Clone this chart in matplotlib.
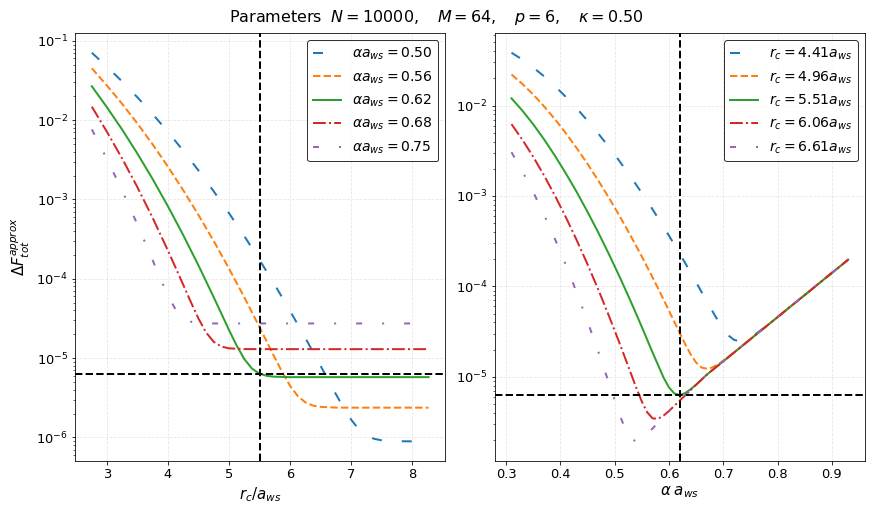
import numpy as np
import matplotlib.pyplot as plt

# values are given as log10(ΔF)

# left panel: ΔF vs r_c / a_ws at fixed alpha
alpha_labels = ['0.50', '0.56', '0.62', '0.68', '0.75']

rc_a050 = [2.755, 3.0, 3.25, 3.5, 3.75, 4.0, 4.25, 4.5, 4.75, 5.0, 5.25, 5.5, 5.75, 6.0,
           6.25, 6.5, 6.75, 6.875, 7.0, 7.125, 7.25, 7.375, 7.5, 7.75, 8.0, 8.265]
lg_a050 = [-1.149, -1.324, -1.511, -1.711, -1.922, -2.147, -2.384, -2.634, -2.897, -3.173,
           -3.461, -3.763, -4.078, -4.406, -4.747, -5.100, -5.456, -5.626, -5.778, -5.898,
           -5.976, -6.018, -6.037, -6.048, -6.050, -6.050]

rc_a056 = [2.755, 3.0, 3.25, 3.5, 3.75, 4.0, 4.25, 4.5, 4.75, 5.0, 5.25, 5.5, 5.75, 5.875,
           6.0, 6.125, 6.25, 6.375, 6.5, 6.75, 7.0, 7.5, 8.0, 8.265]
lg_a056 = [-1.345, -1.561, -1.793, -2.041, -2.305, -2.585, -2.882, -3.195, -3.525, -3.871,
           -4.233, -4.611, -4.997, -5.183, -5.350, -5.479, -5.559, -5.599, -5.615, -5.624,
           -5.625, -5.625, -5.625, -5.625]

rc_a062 = [2.755, 3.0, 3.25, 3.5, 3.75, 4.0, 4.25, 4.5, 4.75, 5.0, 5.125, 5.25, 5.375, 5.5,
           5.625, 5.75, 6.0, 6.5, 7.0, 7.5, 8.0, 8.265]
lg_a062 = [-1.572, -1.835, -2.117, -2.420, -2.742, -3.085, -3.448, -3.831, -4.233, -4.646,
           -4.842, -5.012, -5.132, -5.197, -5.225, -5.235, -5.240, -5.240, -5.240, -5.240,
           -5.240, -5.240]

rc_a068 = [2.755, 3.0, 3.25, 3.5, 3.75, 4.0, 4.25, 4.375, 4.5, 4.625, 4.75, 4.875, 5.0,
           5.25, 5.5, 6.0, 6.5, 7.0, 7.5, 8.0, 8.265]
lg_a068 = [-1.830, -2.144, -2.482, -2.844, -3.231, -3.643, -4.074, -4.293, -4.501, -4.677,
           -4.795, -4.854, -4.877, -4.886, -4.887, -4.887, -4.887, -4.887, -4.887, -4.887,
           -4.887]

rc_a075 = [2.755, 3.0, 3.25, 3.5, 3.75, 3.875, 4.0, 4.125, 4.25, 4.375, 4.5, 4.75, 5.0,
           5.5, 6.0, 6.5, 7.0, 7.5, 8.0, 8.265]
lg_a075 = [-2.116, -2.486, -2.885, -3.313, -3.765, -3.994, -4.210, -4.386, -4.494, -4.541,
           -4.557, -4.563, -4.563, -4.563, -4.563, -4.563, -4.563, -4.563, -4.563, -4.563]

# right panel: ΔF vs alpha a_ws at fixed r_c
rc_labels = ['4.41', '4.96', '5.51', '6.06', '6.61']

tail_alpha = [0.59, 0.61, 0.63, 0.65, 0.67, 0.69, 0.71, 0.73, 0.75, 0.77, 0.79, 0.81,
              0.83, 0.85, 0.87, 0.89, 0.91, 0.93]
tail_lg = [-5.443, -5.321, -5.203, -5.088, -4.974, -4.876, -4.779, -4.681, -4.583, -4.485,
           -4.388, -4.290, -4.192, -4.095, -3.997, -3.899, -3.802, -3.704]

al_r441 = [0.31, 0.33, 0.35, 0.37, 0.39, 0.41, 0.43, 0.45, 0.47, 0.49, 0.51, 0.53, 0.55,
           0.57, 0.59, 0.61, 0.63, 0.65, 0.67, 0.69, 0.71, 0.72, 0.73, 0.74, 0.75, 0.77,
           0.79, 0.81, 0.83, 0.85, 0.87, 0.89, 0.91, 0.93]
lg_r441 = [-1.416, -1.491, -1.579, -1.677, -1.785, -1.904, -2.031, -2.167, -2.311, -2.463,
           -2.624, -2.791, -2.967, -3.150, -3.340, -3.538, -3.743, -3.954, -4.169, -4.377,
           -4.544, -4.591, -4.606, -4.595, -4.566, -4.481, -4.387, -4.290, -4.192, -4.095,
           -3.997, -3.899, -3.802, -3.704]

al_r496 = [0.31, 0.33, 0.35, 0.37, 0.39, 0.41, 0.43, 0.45, 0.47, 0.49, 0.51, 0.53, 0.55,
           0.57, 0.59, 0.61, 0.62, 0.63, 0.64, 0.65, 0.66, 0.67, 0.68, 0.69, 0.71] + tail_alpha[7:]
lg_r496 = [-1.657, -1.761, -1.878, -2.009, -2.151, -2.305, -2.470, -2.645, -2.831, -3.026,
           -3.231, -3.446, -3.669, -3.903, -4.144, -4.393, -4.518, -4.640, -4.752, -4.842,
           -4.897, -4.910, -4.896, -4.864, -4.777] + tail_lg[7:]

al_r551 = [0.31, 0.33, 0.35, 0.37, 0.39, 0.41, 0.43, 0.45, 0.47, 0.49, 0.51, 0.53, 0.55,
           0.57, 0.59, 0.60, 0.61, 0.62, 0.63, 0.64, 0.65] + tail_alpha[4:]
lg_r551 = [-1.920, -2.056, -2.207, -2.374, -2.555, -2.749, -2.955, -3.175, -3.406, -3.650,
           -3.905, -4.171, -4.448, -4.733, -5.007, -5.117, -5.184, -5.201, -5.179, -5.136,
           -5.085] + tail_lg[4:]

al_r606 = [0.31, 0.33, 0.35, 0.37, 0.39, 0.41, 0.43, 0.45, 0.47, 0.49, 0.51, 0.53, 0.54,
           0.55, 0.56, 0.57, 0.58, 0.59, 0.60, 0.61] + tail_alpha[2:]
lg_r606 = [-2.206, -2.377, -2.567, -2.773, -2.996, -3.234, -3.487, -3.755, -4.037, -4.334,
           -4.643, -4.964, -5.124, -5.273, -5.393, -5.459, -5.463, -5.428, -5.377, -5.320] + tail_lg[2:]

al_r661 = [0.31, 0.33, 0.35, 0.37, 0.39, 0.41, 0.43, 0.45, 0.47, 0.49, 0.50, 0.51, 0.52,
           0.53, 0.54, 0.55, 0.56, 0.57] + tail_alpha
lg_r661 = [-2.516, -2.726, -2.956, -3.206, -3.475, -3.761, -4.065, -4.387, -4.724, -5.077,
           -5.257, -5.432, -5.585, -5.686, -5.713, -5.684, -5.629, -5.569] + tail_lg

rc_opt = 5.51
alpha_opt = 0.62
dF_target = 6.35e-6

styles = [(0, (5, 10)), '--', '-', '-.', (0, (3, 10, 1, 10))]
colors = ['C0', 'C1', 'C2', 'C3', 'C4']

fig, (ax1, ax2) = plt.subplots(1, 2, figsize=(872 / 72, 512 / 72), dpi=72)
fig.subplots_adjust(left=0.086, right=0.992, bottom=0.1, top=0.935, wspace=0.133)

left = [(rc_a050, lg_a050), (rc_a056, lg_a056), (rc_a062, lg_a062),
        (rc_a068, lg_a068), (rc_a075, lg_a075)]
for (x, lg), lab, ls, c in zip(left, alpha_labels, styles, colors):
    ax1.semilogy(x, np.power(10.0, lg), ls=ls, color=c, lw=2,
                 label=r'$\alpha a_{ws} = %s$' % lab)
ax1.axvline(rc_opt, color='k', ls='--', lw=2)
ax1.axhline(dF_target, color='k', ls='--', lw=2)
ax1.set_xlabel(r'$r_c/a_{ws}$', fontsize=15)
ax1.set_ylabel(r'$\Delta F_{tot}^{approx}$', fontsize=15)

right = [(al_r441, lg_r441), (al_r496, lg_r496), (al_r551, lg_r551),
         (al_r606, lg_r606), (al_r661, lg_r661)]
for (x, lg), lab, ls, c in zip(right, rc_labels, styles, colors):
    ax2.semilogy(x, np.power(10.0, lg), ls=ls, color=c, lw=2,
                 label=r'$r_c = %s a_{ws}$' % lab)
ax2.axvline(alpha_opt, color='k', ls='--', lw=2)
ax2.axhline(dF_target, color='k', ls='--', lw=2)
ax2.set_xlabel(r'$\alpha \; a_{ws}$', fontsize=15)

for ax in (ax1, ax2):
    ax.grid(True, which='major', ls='--', alpha=0.3)
    ax.tick_params(labelsize=13)
    ax.legend(loc='upper right', fontsize=14, edgecolor='k')

fig.suptitle(r'Parameters $\;N=10000,\quad M=64,\quad p=6,\quad \kappa=0.50$',
             fontsize=16, y=0.985)

fig.savefig('out.png', dpi=72)
